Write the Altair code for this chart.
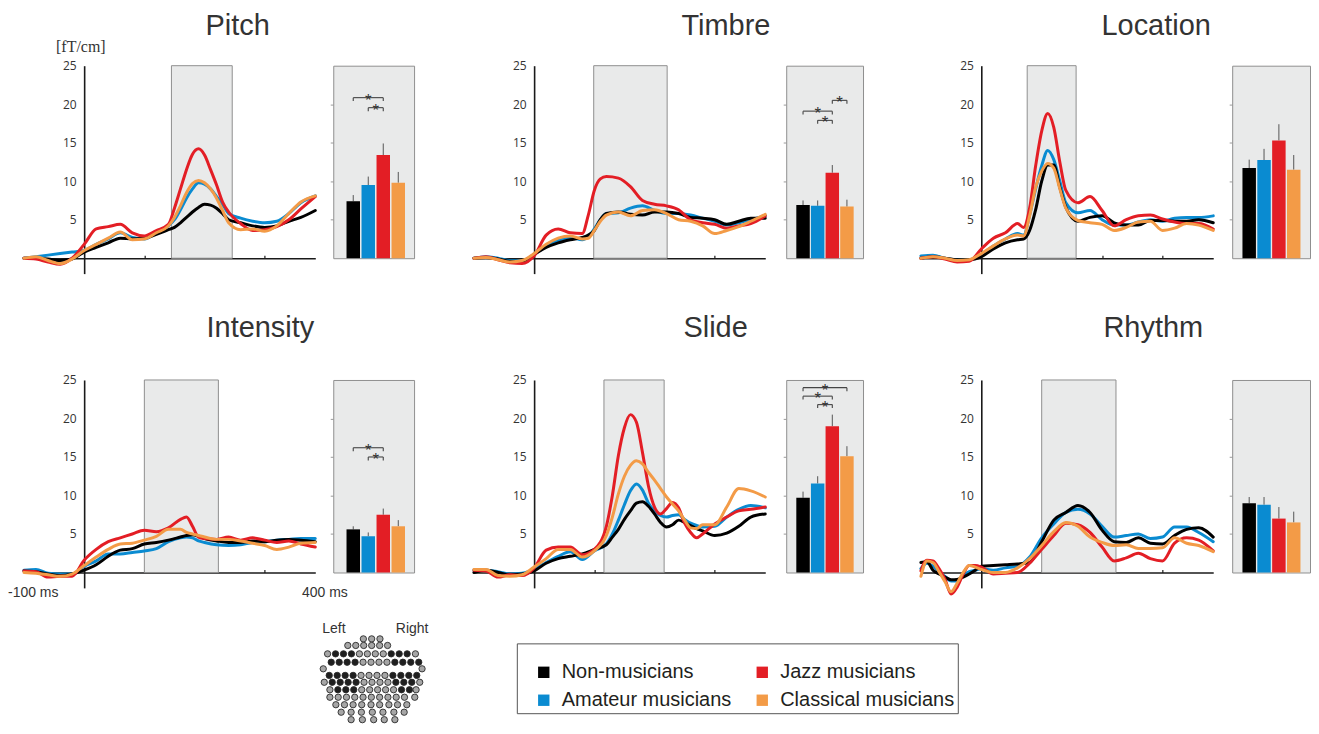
import altair as alt
import pandas as pd

GROUPS = ["Non-musicians", "Amateur musicians", "Jazz musicians", "Classical musicians"]
GROUP_COLORS = ["#000000", "#0a8bd1", "#e31e25", "#f39b47"]
DRAW_ORDER = ["Amateur musicians", "Non-musicians", "Jazz musicians", "Classical musicians"]

PANELS = ["Pitch", "Timbre", "Location", "Intensity", "Slide", "Rhythm"]
WIN_START = [145, 99, 76, 100, 116, 100]
WIN_END = [246, 221, 157, 223, 216, 223]

# ---- waveforms (ms, fT/cm) ----
PITCH_T = [-100, -80, -60, -40, -20, 0, 20, 40, 60, 80, 100, 120, 140, 150, 160, 170, 180, 190, 200, 210, 220, 230, 240, 260, 280, 300, 320, 340, 360, 384]
PITCH_NON = [0, 0, -0.1, -0.3, -0.1, 0.8, 1.4, 2.0, 2.6, 2.5, 2.6, 3.1, 3.7, 4.0, 4.6, 5.3, 6.0, 6.6, 7.0, 6.9, 6.5, 5.8, 5.0, 4.6, 4.2, 4.0, 4.2, 4.8, 5.3, 6.2]
PITCH_AMA = [0, 0.2, 0.4, 0.6, 0.8, 1.0, 1.8, 2.5, 3.3, 2.7, 2.5, 3.3, 4.2, 5.0, 6.3, 7.8, 9.0, 9.8, 9.6, 9.0, 8.0, 7.0, 5.8, 5.2, 4.8, 4.6, 4.8, 5.8, 7.2, 8.1]
PITCH_JAZ = [0, -0.1, -0.5, -0.8, 0, 1.8, 3.8, 4.1, 4.4, 3.3, 2.9, 3.6, 4.4, 6.5, 9.0, 11.5, 13.5, 14.2, 13.4, 11.5, 9.5, 7.3, 6.0, 4.5, 3.6, 3.7, 4.1, 5.0, 6.4, 8.0]
PITCH_CLA = [0, 0.2, -0.3, -0.7, -0.1, 1.0, 1.8, 2.6, 3.4, 2.4, 2.5, 3.3, 4.2, 5.3, 6.8, 8.5, 9.7, 10.1, 9.8, 9.0, 7.8, 6.2, 4.6, 3.7, 3.8, 3.5, 4.2, 5.8, 7.3, 8.1]

TIMBRE_T = [-100, -80, -60, -40, -20, 0, 20, 40, 60, 80, 90, 100, 110, 120, 140, 160, 180, 200, 220, 240, 260, 280, 300, 320, 340, 360, 384]
TIMBRE_NON = [0, 0.1, -0.1, -0.4, -0.4, 0.5, 1.4, 2.0, 2.4, 2.7, 3.0, 3.6, 5.0, 5.8, 6.0, 5.7, 5.6, 6.0, 6.0, 5.8, 5.3, 5.2, 5.0, 4.4, 4.8, 5.2, 5.2]
TIMBRE_AMA = [0, 0.2, 0, -0.3, -0.3, 0.5, 1.6, 2.3, 2.7, 2.4, 2.8, 3.8, 5.0, 5.8, 5.9, 6.5, 6.8, 6.2, 5.8, 5.8, 5.6, 5.2, 4.8, 4.3, 4.6, 5.0, 5.5]
TIMBRE_JAZ = [0, 0.2, -0.2, -0.6, -0.7, 0.3, 3.0, 3.8, 3.3, 3.2, 5.6, 8.8, 10.3, 10.6, 10.4, 9.3, 7.5, 7.0, 6.8, 6.3, 5.0, 4.6, 4.4, 3.9, 4.2, 4.5, 5.5]
TIMBRE_CLA = [0, 0.1, -0.2, -0.5, -0.3, 0.6, 1.8, 2.6, 2.9, 2.5, 2.6, 3.6, 4.8, 5.6, 6.0, 5.5, 6.2, 6.3, 5.8, 5.0, 4.8, 4.2, 3.2, 3.6, 4.1, 4.8, 5.7]

LOC_T = [-100, -80, -60, -40, -20, 0, 20, 40, 60, 70, 80, 90, 100, 110, 120, 130, 140, 160, 180, 200, 220, 240, 260, 280, 300, 320, 340, 360, 384]
LOC_NON = [0, 0.2, 0, -0.2, -0.2, 0.2, 1.2, 2.0, 2.4, 2.5, 3.6, 6.3, 10.0, 12.1, 12.1, 9.2, 6.6, 4.8, 5.3, 5.5, 4.6, 4.3, 4.3, 4.9, 4.9, 4.8, 4.8, 5.0, 4.6]
LOC_AMA = [0.3, 0.4, 0, -0.2, -0.2, 0.5, 1.6, 2.5, 3.2, 3.0, 5.6, 9.0, 12.0, 14.0, 12.8, 10.0, 7.2, 5.9, 6.2, 5.0, 4.3, 4.3, 4.7, 5.0, 4.8, 5.2, 5.3, 5.3, 5.5]
LOC_JAZ = [0, 0.2, -0.1, -0.5, -0.4, 1.2, 2.6, 3.3, 4.5, 4.0, 6.5, 12.0, 16.5, 18.8, 17.0, 12.5, 8.8, 7.2, 8.0, 6.2, 4.2, 5.0, 5.5, 5.6, 5.1, 4.7, 4.5, 4.5, 3.8]
LOC_CLA = [0, 0.2, 0, -0.3, -0.2, 0.6, 1.6, 2.5, 3.0, 2.9, 5.5, 9.2, 11.3, 12.3, 11.7, 9.0, 6.5, 4.9, 4.6, 4.4, 3.6, 4.0, 4.7, 4.8, 3.6, 3.9, 4.5, 4.3, 3.6]

INT_T = [-100, -80, -60, -40, -20, 0, 20, 40, 60, 80, 100, 120, 140, 160, 170, 180, 190, 200, 220, 240, 260, 280, 300, 320, 340, 360, 384]
INT_NON = [0.2, 0.1, -0.2, -0.4, -0.2, 0.3, 1.0, 2.1, 2.9, 3.1, 3.7, 3.9, 4.2, 4.6, 4.8, 4.9, 4.7, 4.4, 4.1, 3.9, 3.9, 4.1, 4.0, 4.2, 4.3, 4.2, 4.0]
INT_AMA = [0.3, 0.4, -0.1, -0.2, -0.2, 0.8, 1.5, 2.4, 2.4, 2.6, 2.8, 3.1, 4.0, 4.5, 4.6, 4.5, 4.1, 3.9, 3.6, 3.5, 3.6, 3.9, 4.0, 4.2, 4.3, 4.4, 4.4]
INT_JAZ = [0.2, 0.1, -0.6, -0.5, -0.5, 1.6, 3.0, 4.0, 4.5, 5.0, 5.5, 5.3, 5.8, 6.9, 7.2, 6.0, 4.6, 4.4, 4.3, 4.6, 4.2, 4.5, 4.2, 3.9, 4.1, 3.7, 3.3]
INT_CLA = [0, -0.1, -0.3, -0.5, -0.2, 0.9, 2.0, 3.0, 3.7, 3.8, 4.2, 4.7, 5.6, 5.6, 5.2, 5.0, 4.8, 4.6, 4.3, 4.3, 4.1, 3.8, 3.5, 3.0, 3.3, 3.8, 3.9]

SLIDE_T = [-100, -80, -60, -40, -20, 0, 20, 40, 60, 80, 100, 120, 130, 140, 150, 160, 170, 180, 190, 200, 210, 220, 230, 240, 250, 260, 270, 280, 300, 320, 340, 360, 384]
SLIDE_NON = [0, 0.3, 0, -0.3, -0.2, 0.2, 1.2, 1.8, 2.1, 2.4, 3.0, 3.6, 4.6, 5.6, 6.9, 8.0, 9.0, 9.2, 8.6, 7.6, 6.5, 5.9, 6.2, 6.8, 6.5, 6.1, 5.7, 5.4, 4.8, 5.1, 6.0, 7.2, 7.6]
SLIDE_AMA = [0.3, 0.3, 0.1, -0.2, -0.1, 0.4, 1.3, 2.1, 2.7, 1.7, 2.8, 3.7, 5.0, 6.8, 8.8, 10.6, 11.5, 10.7, 9.0, 8.0, 7.4, 7.2, 7.4, 7.5, 6.9, 6.4, 6.1, 5.9, 6.0, 7.2, 8.2, 8.7, 8.4]
SLIDE_JAZ = [0.3, 0.2, -0.6, -0.3, -0.4, 0.6, 2.9, 3.3, 3.3, 2.3, 3.0, 6.0, 10.0, 15.2, 18.8, 20.5, 19.5, 15.6, 11.2, 8.5, 7.6, 8.3, 9.1, 8.4, 6.4, 5.2, 4.5, 5.0, 6.3, 7.2, 8.0, 8.2, 8.5]
SLIDE_CLA = [0.4, 0.4, -0.4, -0.5, -0.3, 0.7, 1.8, 3.0, 3.0, 2.0, 2.8, 4.8, 7.2, 10.2, 12.5, 13.9, 14.5, 14.1, 13.0, 12.0, 10.9, 9.8, 8.9, 8.0, 6.8, 5.8, 5.7, 6.2, 6.2, 8.5, 10.9, 10.6, 9.8]

RHY_T = [-100, -90, -80, -70, -60, -50, -40, -30, -20, -10, 0, 20, 40, 60, 80, 100, 120, 140, 160, 180, 200, 220, 240, 260, 280, 300, 320, 340, 360, 384]
RHY_NON = [1.3, 1.4, 0.3, -0.2, -0.6, -0.95, -0.9, -0.6, -0.2, 0.3, 0.8, 0.9, 1.0, 1.1, 1.3, 4.0, 6.8, 7.8, 8.7, 7.8, 5.5, 4.0, 3.9, 4.5, 3.8, 3.7, 4.8, 5.6, 5.8, 4.6]
RHY_AMA = [0.5, 1.2, 0.8, 0.1, -0.5, -1.1, -1.1, -0.4, 0.1, 0.3, 0.5, 0.3, 0.6, 0.8, 2.0, 4.5, 6.3, 7.8, 8.2, 7.6, 6.0, 4.6, 4.8, 5.0, 4.4, 4.6, 5.9, 5.9, 5.2, 4.0]
RHY_JAZ = [0.2, 1.6, 1.5, 0.5, -0.9, -2.8, -1.9, -0.2, 0.9, 0.9, 0.7, -0.2, -0.1, 0, 1.2, 3.0, 4.8, 6.4, 6.2, 5.2, 3.3, 1.5, 1.9, 2.5, 1.8, 1.5, 3.8, 4.5, 4.2, 2.8]
RHY_CLA = [-0.5, 1.5, 1.3, 0.1, -1.2, -2.5, -1.4, 0, 0.9, 0.7, 0.4, 0, 0, 0.6, 1.8, 3.5, 5.3, 6.5, 6.0, 4.6, 3.9, 3.5, 3.6, 3.1, 3.1, 3.2, 4.5, 3.8, 3.5, 2.7]

# ---- bar means and error (order: Non, Amateur, Jazz, Classical) ----
BAR_PITCH = [7.4, 9.5, 13.4, 9.8]
ERR_PITCH = [0.8, 1.1, 1.5, 1.4]
BAR_TIMBRE = [6.9, 6.8, 11.1, 6.7]
ERR_TIMBRE = [0.6, 0.7, 1.0, 0.9]
BAR_LOCATION = [11.7, 12.75, 15.3, 11.5]
ERR_LOCATION = [1.1, 1.45, 2.1, 1.9]
BAR_INTENSITY = [5.6, 4.7, 7.5, 6.0]
ERR_INTENSITY = [0.4, 0.5, 0.8, 0.8]
BAR_SLIDE = [9.7, 11.55, 19.0, 15.1]
ERR_SLIDE = [0.8, 0.95, 1.5, 1.3]
BAR_RHYTHM = [9.0, 8.8, 7.0, 6.5]
ERR_RHYTHM = [0.8, 1.0, 1.5, 1.4]

# ---- significance brackets ----
SIG_PANEL = ["Pitch", "Pitch", "Timbre", "Timbre", "Timbre", "Intensity", "Intensity", "Slide", "Slide", "Slide"]
SIG_FROM = [0, 1, 0, 1, 2, 0, 1, 0, 0, 1]
SIG_TO = [2, 2, 2, 2, 3, 2, 2, 3, 2, 2]
SIG_Y = [20.85, 19.55, 19.1, 17.9, 20.5, 16.2, 15.0, 24.0, 22.9, 21.8]

# ---- sensor layout sketch ----
SENSOR_ROW_Y = [70, 92, 120, 148, 170, 192, 215, 240, 265, 290, 315, 340]
SENSOR_ROW_X = [
    [163, 188, 213],
    [116, 140, 164, 188, 212, 236],
    [55, 79, 103, 127, 151, 175, 199, 223, 247, 271, 295, 320],
    [66, 90, 114, 138, 162, 186, 210, 234, 258, 282, 306, 330],
    [42, 340],
    [60, 84, 108, 132, 156, 180, 204, 228, 252, 276, 300, 324],
    [45, 69, 93, 117, 141, 165, 189, 213, 237, 261, 285, 309, 333],
    [62, 86, 110, 134, 158, 182, 206, 230, 254, 278, 302, 322],
    [62, 87, 112, 137, 162, 187, 212, 237, 262, 287, 318],
    [80, 106, 132, 158, 186, 212, 240, 266, 294],
    [96, 126, 157, 190, 222, 255, 286],
    [126, 160, 194, 226, 258],
]
SENSOR_ROW_KIND = ["GGG", "GGGGGG", "GDDDGGGGDDDG", "DDDDGGGGDDDD", "GG", "DDDDGGGGDDDD",
                   "GDDDDGGGGDDDG", "GDDDGGGGGDDG", "GGGGGGGGGGG", "GGGGGGGGG", "GGGGGGG", "GGGGG"]
SENSOR_LABELS = ["Left", "Right"]
SENSOR_LABEL_X = [74, 310]

UNIT_LABEL = "[fT/cm]"
MS_LABELS = ["-100 ms", "400 ms"]
MS_TIMES = [-100, 400]

WAVES = [
    (PITCH_T, [PITCH_NON, PITCH_AMA, PITCH_JAZ, PITCH_CLA]),
    (TIMBRE_T, [TIMBRE_NON, TIMBRE_AMA, TIMBRE_JAZ, TIMBRE_CLA]),
    (LOC_T, [LOC_NON, LOC_AMA, LOC_JAZ, LOC_CLA]),
    (INT_T, [INT_NON, INT_AMA, INT_JAZ, INT_CLA]),
    (SLIDE_T, [SLIDE_NON, SLIDE_AMA, SLIDE_JAZ, SLIDE_CLA]),
    (RHY_T, [RHY_NON, RHY_AMA, RHY_JAZ, RHY_CLA]),
]
BARS = [
    (BAR_PITCH, ERR_PITCH), (BAR_TIMBRE, ERR_TIMBRE), (BAR_LOCATION, ERR_LOCATION),
    (BAR_INTENSITY, ERR_INTENSITY), (BAR_SLIDE, ERR_SLIDE), (BAR_RHYTHM, ERR_RHYTHM),
]

# ---- layout ----
H = 208.4
H0 = 268.3
BAR_H = H * 25 / 27
LINE_PAD = [0, 42, 40]
LINE_W = [292, 292, 293]
LINE_CELL_W = [292, 337, 334]
BAR_W = [81, 77, 78]
BAR_DOM = [[-1.0, 3.72], [-0.81, 3.76], [-0.81, 3.76]]
TITLE_DX = [182, 250, 221, 183, 252, 223]
TITLE_OFF = [-25, -4, -4, 8, 8, 8]
FONT = "Liberation Sans"

LEGEND = alt.Legend(
    orient="none", legendX=494, legendY=579, columns=2, title=" ", titleFontSize=10,
    titlePadding=6, padding=3, symbolType="square", symbolSize=130, symbolStrokeWidth=0,
    symbolOffset=14, labelFont=FONT, labelFontSize=20, labelColor="#231f20", labelOffset=8,
    columnPadding=6, rowPadding=8, strokeColor="#555555", fillColor="white", labelLimit=400,
)

STROKE_SCALE = alt.Scale(domain=DRAW_ORDER,
                         range=[GROUP_COLORS[GROUPS.index(g)] for g in DRAW_ORDER])


def line_panel(idx):
    col, row = idx % 3, idx // 3
    times, series = WAVES[idx]
    x0, w = LINE_PAD[col], LINE_W[col]
    recs = []
    for g in DRAW_ORDER:
        vals = series[GROUPS.index(g)]
        for t, v in zip(times, vals):
            recs.append({"t": t, "v": v, "series": g})
    df = pd.DataFrame(recs)
    xs = alt.Scale(domain=[-100, 384], range=[x0, x0 + w], nice=False, zero=False)
    ys = alt.Scale(domain=[-2, 25], range=[H, 0], nice=False, zero=False)
    zero_px = x0 + w * 100 / 484
    xaxis = alt.Axis(orient="top", offset=-(H * 25 / 27), values=[100, 200, 300], labels=False,
                     ticks=True, tickSize=3, tickColor="#1a1a1a", tickWidth=1.2,
                     domainColor="#1a1a1a", domainWidth=1.6, grid=False, title=None)
    yaxis = alt.Axis(orient="left", offset=-zero_px, values=[5, 10, 15, 20, 25], ticks=False,
                     domainColor="#1a1a1a", domainWidth=1.6, labelFont="Open Sans",
                     labelFontSize=12, labelColor="#333333", labelPadding=8, grid=False, title=None)
    win = pd.DataFrame({"a": [WIN_START[idx]], "b": [WIN_END[idx]]})
    rect = alt.Chart(win).mark_rect(fill="#e9eaea", stroke="#8f8f8f", strokeWidth=1).encode(
        x=alt.X("a:Q", scale=xs, axis=xaxis), x2="b:Q",
        y=alt.YDatum(0, type="quantitative", scale=ys, axis=yaxis), y2=alt.Y2Datum(25),
    )
    lines = alt.Chart(df).mark_line(strokeWidth=3, interpolate="monotone", strokeJoin="round",
                                    strokeCap="round").encode(
        x=alt.X("t:Q", scale=xs, axis=xaxis),
        y=alt.Y("v:Q", scale=ys, axis=yaxis),
        stroke=alt.Stroke("series:N", scale=STROKE_SCALE, legend=None),
    )
    layers = [rect, lines]
    if idx == 0:
        unit = alt.Chart(pd.DataFrame({"u": [UNIT_LABEL]})).mark_text(
            font="Liberation Serif", fontSize=16, color="#333333", align="center", baseline="middle"
        ).encode(x=alt.value(57), y=alt.value(-19), text="u:N")
        layers.append(unit)
    if idx == 3:
        ms = pd.DataFrame({"t": MS_TIMES, "lab": MS_LABELS})
        left = alt.Chart(ms).transform_filter("datum.t < 0").mark_text(
            align="left", dx=-16, dy=5, baseline="middle", fontSize=14, font=FONT, color="#333333"
        ).encode(x=alt.X("t:Q", scale=xs, axis=xaxis), y=alt.value(H), text="lab:N")
        right = alt.Chart(ms).transform_filter("datum.t > 0").mark_text(
            align="center", dy=5, baseline="middle", fontSize=14, font=FONT, color="#333333"
        ).encode(x=alt.X("t:Q", scale=xs, axis=xaxis), y=alt.value(H), text="lab:N")
        layers += [left, right]
    title = alt.TitleParams(PANELS[idx], anchor="start", frame="group", dx=TITLE_DX[idx],
                            offset=TITLE_OFF[idx], fontSize=29, font=FONT, fontWeight="normal",
                            color="#333333", baseline="alphabetic")
    return alt.layer(*layers).properties(width=LINE_CELL_W[col], height=H0 if row == 0 else H,
                                         title=title)


def bar_panel(idx):
    col = idx % 3
    means, errs = BARS[idx]
    df = pd.DataFrame({"i": [0, 1, 2, 3], "g": GROUPS, "m": means, "e": errs})
    xs = alt.Scale(domain=BAR_DOM[col], nice=False, zero=False)
    ys = alt.Scale(domain=[0, 25], nice=False, zero=False)
    yaxis = alt.Axis(orient="left", values=[5, 10, 15, 20], labels=False, domain=False, ticks=True,
                     tickSize=3, tickColor="#9a9a9a", grid=False, title=None)
    err = alt.Chart(df).transform_calculate(top="datum.m + datum.e").mark_rule(
        color="#555555", strokeWidth=1).encode(
        x=alt.X("i:Q", scale=xs, axis=None), y=alt.Y("m:Q", scale=ys, axis=yaxis), y2="top:Q")
    bars = alt.Chart(df).mark_bar(size=13.5).encode(
        x=alt.X("i:Q", scale=xs, axis=None),
        y=alt.Y("m:Q", scale=ys, axis=yaxis),
        color=alt.Color("g:N", scale=alt.Scale(domain=GROUPS, range=GROUP_COLORS), legend=LEGEND),
    )
    layers = [err, bars]
    sel = [k for k, p in enumerate(SIG_PANEL) if p == PANELS[idx]]
    if sel:
        bdf = pd.DataFrame({"a": [SIG_FROM[k] for k in sel], "b": [SIG_TO[k] for k in sel],
                            "h": [SIG_Y[k] for k in sel]})
        hline = alt.Chart(bdf).mark_rule(color="#444444", strokeWidth=1.1).encode(
            x=alt.X("a:Q", scale=xs, axis=None), x2="b:Q", y=alt.Y("h:Q", scale=ys, axis=yaxis))
        ends = alt.Chart(bdf).transform_fold(["a", "b"], as_=["side", "pos"]).transform_calculate(
            lo="datum.h - 0.45").mark_rule(color="#444444", strokeWidth=1.1).encode(
            x=alt.X("pos:Q", scale=xs, axis=None), y=alt.Y("h:Q", scale=ys, axis=yaxis), y2="lo:Q")
        star = alt.Chart(bdf).transform_calculate(mid="(datum.a + datum.b) / 2", s="'*'").mark_text(
            fontSize=17, font=FONT, color="#333333", baseline="alphabetic", dy=8).encode(
            x=alt.X("mid:Q", scale=xs, axis=None), y=alt.Y("h:Q", scale=ys, axis=yaxis), text="s:N")
        layers += [hline, ends, star]
    return alt.layer(*layers).properties(
        width=BAR_W[col], height=BAR_H,
        view=alt.ViewBackground(fill="#e9eaea", stroke="#8f8f8f", strokeWidth=1))


def sensor_panel():
    recs = []
    for y, xs_, kinds in zip(SENSOR_ROW_Y, SENSOR_ROW_X, SENSOR_ROW_KIND):
        for x, k in zip(xs_, kinds):
            recs.append({"sx": x, "sy": y, "kind": k})
    sdf = pd.DataFrame(recs)
    sx = alt.Scale(domain=[30, 355], range=[296, 404], nice=False, zero=False)
    sy = alt.Scale(domain=[55, 355], range=[0, 90], nice=False, zero=False)
    pts = alt.Chart(sdf).mark_point(filled=True, size=40, stroke="#2a2a2a", strokeWidth=0.9,
                                    opacity=1).encode(
        x=alt.X("sx:Q", scale=sx, axis=None),
        y=alt.Y("sy:Q", scale=sy, axis=None),
        fill=alt.Fill("kind:N", scale=alt.Scale(domain=["G", "D"], range=["#a6a6a6", "#1f1f1f"]),
                      legend=None),
    )
    lab = alt.Chart(pd.DataFrame({"lab": SENSOR_LABELS, "lx": SENSOR_LABEL_X})).mark_text(
        font=FONT, fontSize=14, color="#333333", baseline="alphabetic", align="center").encode(
        x=alt.X("lx:Q", scale=sx, axis=None), y=alt.value(-1), text="lab:N")
    return alt.layer(pts, lab).properties(width=292, height=90)


cells = []
for r in range(2):
    for c in range(3):
        idx = r * 3 + c
        cells.append(line_panel(idx))
        cells.append(bar_panel(idx))
cells.append(sensor_panel())

chart = alt.concat(*cells, columns=6, spacing={"row": 46, "column": 18}, bounds="flush",
                   align="each").resolve_scale(x="independent", y="independent").properties(
    padding={"top": 3, "left": 0, "right": 0, "bottom": 0}).configure_view(stroke=None)

chart.save("out.html", embed_options={"renderer": "svg", "actions": False})
